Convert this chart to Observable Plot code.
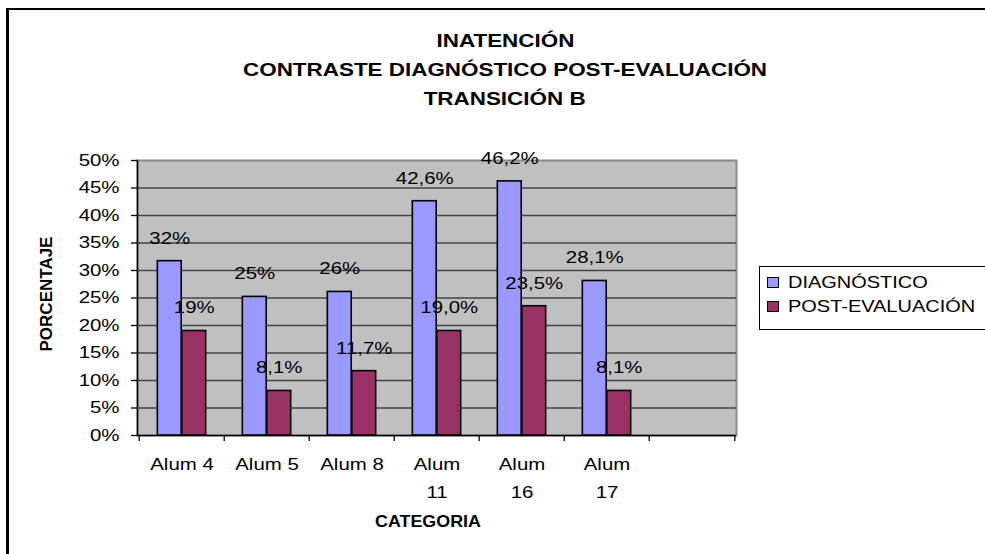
<!DOCTYPE html>
<html>
<head>
<meta charset="utf-8">
<script src="https://cdn.jsdelivr.net/npm/d3@7"></script>
<script src="https://cdn.jsdelivr.net/npm/@observablehq/plot@0.6"></script>
<style>
  html, body { margin: 0; padding: 0; background: #fff; overflow: hidden; }
  #wrap { position: relative; width: 985px; height: 554px; overflow: hidden; background: #fff;
          font-family: "Liberation Sans", Arial, sans-serif; color: #000; }
  #border { position: absolute; left: 6px; top: 8px; width: 1000px; height: 600px;
            border-left: 3px solid #000; border-top: 2px solid #000; box-sizing: border-box; }
  .tline { position: absolute; left: 0; width: 1010px; text-align: center; font-weight: bold;
           font-size: 19px; line-height: 28px; height: 28px; white-space: nowrap; }
  .tline span { display: inline-block; transform: scaleX(1.18); transform-origin: center; }
  #chart { position: absolute; left: 0; top: 0; }
  #legend { position: absolute; left: 759px; top: 266px; width: 240px; height: 64px;
            border: 1px solid #000; box-sizing: border-box; background: #fff; }
  .lsw { position: absolute; left: 7px; width: 12px; height: 11px; border: 1px solid #000; box-sizing: border-box; }
  .ltx { position: absolute; left: 28px; font-size: 16.5px; line-height: 20px; height: 20px; white-space: nowrap;
         transform: scaleX(1.21); transform-origin: left center; }
  #ylab { position: absolute; left: 47px; top: 294px; font-weight: bold; font-size: 17px; white-space: nowrap;
          transform: translate(-50%, -50%) rotate(-90deg); }
  #xlab { position: absolute; left: 428px; top: 522px; font-weight: bold; font-size: 17px; white-space: nowrap;
          transform: translate(-50%, -50%) scaleX(1.05); }
</style>
</head>
<body>
<div id="wrap">
  <div id="chart"></div>
  <div id="border"></div>
  <div class="tline" style="top:27px"><span>INATENCIÓN</span></div>
  <div class="tline" style="top:56px"><span>CONTRASTE DIAGNÓSTICO POST-EVALUACIÓN</span></div>
  <div class="tline" style="top:85px"><span>TRANSICIÓN B</span></div>
  <div id="ylab">PORCENTAJE</div>
  <div id="xlab">CATEGORIA</div>
  <div id="legend"></div>
</div>
<script>
// ---- data ----
const categories = ["Alum 4", "Alum 5", "Alum 8", "Alum 11", "Alum 16", "Alum 17"];
const emptySlot = " ";
const tickLabels = ["Alum 4", "Alum 5", "Alum 8", "Alum\n11", "Alum\n16", "Alum\n17"];
const seriesNames = ["DIAGNÓSTICO", "POST-EVALUACIÓN"];
const seriesColors = ["#9999ff", "#993366"];
const diagnostico = [31.7, 25.2, 26.1, 42.6, 46.2, 28.1];
const postEvaluacion = [19.0, 8.1, 11.7, 19.0, 23.5, 8.1];
const diagLabels = ["32%", "25%", "26%", "42,6%", "46,2%", "28,1%"];
const postLabels = ["19%", "8,1%", "11,7%", "19,0%", "23,5%", "8,1%"];
const yTicks = [0, 5, 10, 15, 20, 25, 30, 35, 40, 45, 50];

// ---- layout ----
const W = 985, H = 554;
const mL = 137, mR = 249, mT = 160, mB = 119;
const slots = [...categories, emptySlot];
const bw = (W - mL - mR) / slots.length;   // band width
const bar = bw / 3.5;                        // Excel gap width 150%
const K = 1.2;                               // horizontal stretch of the reference

const rows = categories.map((c, i) => ({
  cat: c, diag: diagnostico[i], post: postEvaluacion[i],
  dl: diagLabels[i], pl: postLabels[i]
}));

const plot = Plot.plot({
  width: W, height: H,
  marginLeft: mL, marginRight: mR, marginTop: mT, marginBottom: mB,
  style: { fontFamily: "'Liberation Sans', Arial, sans-serif", fontSize: "17px", color: "#000",
           background: "transparent", overflow: "visible" },
  x: { domain: slots, padding: 0, axis: null },
  y: { domain: [0, 50], axis: null },
  marks: [
    Plot.frame({ fill: "#c0c0c0", stroke: "#8a8a8a", strokeWidth: 2 }),
    Plot.ruleY(yTicks.filter(v => v > 0 && v < 50), { stroke: "#444", strokeWidth: 1.4 }),
    Plot.ruleY([0], { stroke: "#000", strokeWidth: 1.5 }),
    Plot.frame({ anchor: "left", stroke: "#000", strokeWidth: 1.5 }),
    // x tick marks at category boundaries
    Plot.ruleX(slots, { x: d => d, dx: -bw / 2, insetTop: H - mT - mB, insetBottom: -6, stroke: "#000", strokeWidth: 1.3 }),
    Plot.ruleX([emptySlot], { x: d => d, dx: bw / 2, insetTop: H - mT - mB, insetBottom: -6, stroke: "#000", strokeWidth: 1.3 }),
    Plot.axisY({ ticks: yTicks, tickFormat: d => d + "%", tickSize: 6, tickPadding: 12, stroke: "#000", strokeWidth: 1.3, fontSize: 17, label: null }),
    Plot.axisX({ ticks: categories, tickFormat: d => tickLabels[categories.indexOf(d)] ?? "", tickSize: 0, tickPadding: 15, lineHeight: 1.65, fontSize: 17, label: null }),
    Plot.barY(rows, { x: "cat", y: "diag", fill: seriesColors[0], stroke: "#000", strokeWidth: 1.6,
                      insetLeft: 0.75 * bar, insetRight: 1.75 * bar }),
    Plot.barY(rows, { x: "cat", y: "post", fill: seriesColors[1], stroke: "#000", strokeWidth: 1.6,
                      insetLeft: 1.75 * bar, insetRight: 0.75 * bar }),
    Plot.text(rows, { x: "cat", y: "diag", text: "dl", dx: -0.5 * bar, dy: -23, fontSize: 17, fill: "#000" }),
    Plot.text(rows, { x: "cat", y: "post", text: "pl", dx: 0.5 * bar, dy: -23, fontSize: 17, fill: "#000" })
  ]
});
document.getElementById("chart").appendChild(plot);

// stretch SVG texts horizontally like the reference
plot.querySelectorAll("text").forEach(t => {
  const tsp = t.querySelectorAll("tspan");
  const els = tsp.length ? Array.from(tsp) : [t];
  els.forEach(e => {
    const L = e.getComputedTextLength();
    if (L > 0) {
      e.setAttribute("textLength", L * K);
      e.setAttribute("lengthAdjust", "spacingAndGlyphs");
    }
  });
});

// legend
const legend = document.getElementById("legend");
seriesNames.forEach((name, i) => {
  const sw = document.createElement("div");
  sw.className = "lsw";
  sw.style.top = (10 + i * 24) + "px";
  sw.style.background = seriesColors[i];
  legend.appendChild(sw);
  const tx = document.createElement("div");
  tx.className = "ltx";
  tx.style.top = (5 + i * 24) + "px";
  tx.textContent = name;
  legend.appendChild(tx);
});
</script>
</body>
</html>
